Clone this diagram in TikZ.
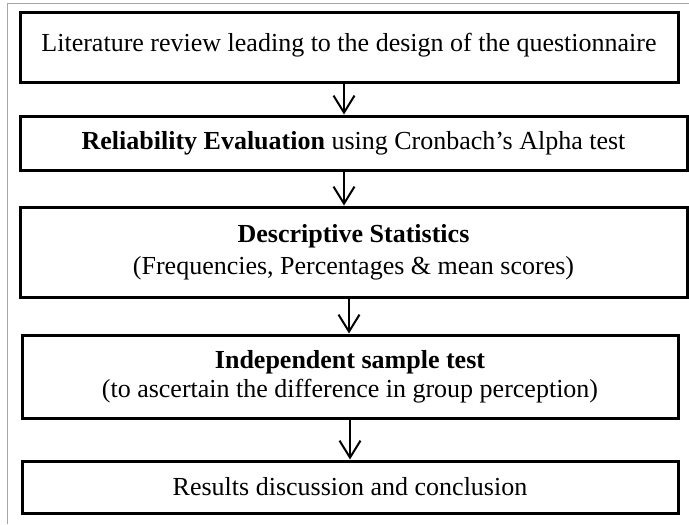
\documentclass[tikz,border=0pt]{standalone}
\usepackage{fontspec}
\setmainfont{Liberation Serif}
\usepackage{tikz}
\usetikzlibrary{arrows.meta,positioning}
\tikzstyle{flowarrow} = [line width=1pt,-{Straight Barb[length=8.5pt,width=10.5pt,line width=1pt]},color=black]
\tikzstyle{stage} = [rectangle, align=center, text centered, draw=black, line width=1.5pt, inner sep=2pt, font=\fontsize{13}{14.5}\selectfont]

\begin{document}
\begin{tikzpicture}[x=0.5pt, y=-0.5pt]
\useasboundingbox (0,0) rectangle (689,524);
% Outer frame
\draw[gray!70, line width=0.5pt] (7,524) -- (7,4) -- (689,4);

% Stages
\node (review) [stage, minimum width=329pt, minimum height=35pt, text depth=6pt] at (349,48) {Literature review leading to the design of the questionnaire};
\node (reliability) [stage, minimum width=333.5pt, minimum height=27pt] at (353.5,143) {\textbf{Reliability Evaluation} using Cronbach’s Alpha test};
\node (descriptive) [stage, minimum width=333.5pt, minimum height=45pt] at (353.5,252) {\textbf{Descriptive Statistics}\\[1.5pt] (Frequencies, Percentages \& mean scores)};
\node (independent) [stage, minimum width=328pt, minimum height=41.5pt] at (350,376.5) {\textbf{Independent sample test}\\ (to ascertain the difference in group perception)};
\node (results) [stage, minimum width=328pt, minimum height=26pt] at (350,487) {Results discussion and conclusion};

% Flow between stages
\draw[flowarrow] ([xshift=-2.5pt]review.south) -- ([xshift=-4.75pt]reliability.north);
\draw[flowarrow] ([xshift=-4.75pt]reliability.south) -- ([xshift=-4.75pt]descriptive.north);
\draw[flowarrow] ([xshift=-2.25pt]descriptive.south) -- ([xshift=-0.5pt]independent.north);
\draw[flowarrow] (independent.south) -- (results.north);
\end{tikzpicture}
\end{document}
